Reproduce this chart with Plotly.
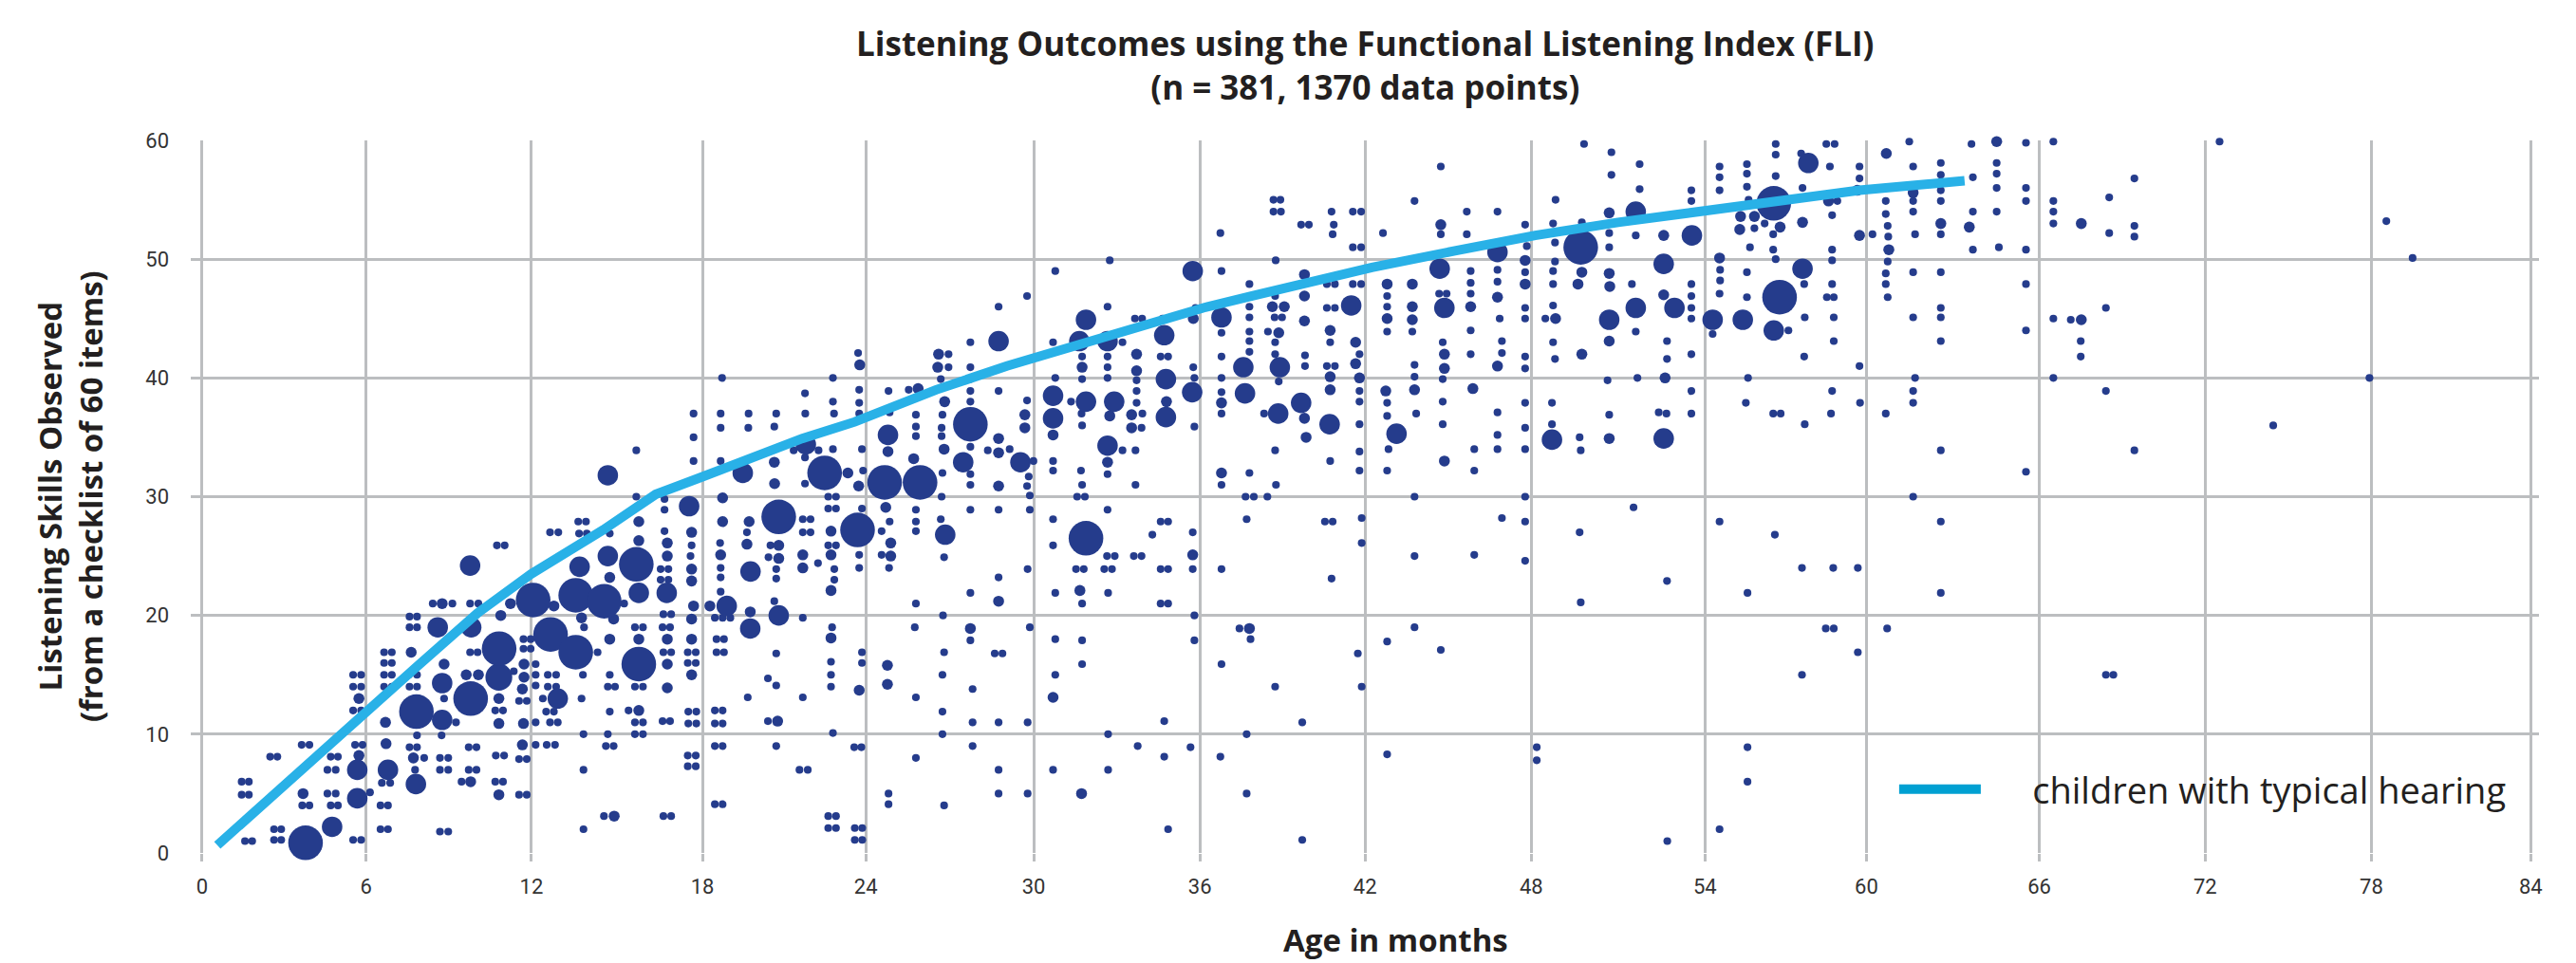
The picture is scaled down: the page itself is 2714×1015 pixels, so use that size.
"""Listening Outcomes (FLI): bubble scatter with the typical hearing reference curve."""
import plotly.graph_objects as go

_DOT = "#253c8c"
_CURVE = "#29b1e7"
_KEY = "#00a0d2"
_GRID = "#bcbec0"
_TEXT = "#231f20"
_HEAD_FONT = "Open Sans"

# reference curve (age in months, skills observed)
curve_age = [0.55, 3.65, 5.93, 7.77, 9.96, 11.53, 11.9, 14.5, 16.4, 18.0, 19.4, 21.7, 23.6, 26.54, 29.1,
             31.5, 36.2, 37.97, 41.3, 42.3, 45.3, 48.2, 51.2, 54.5, 56.98, 59.93, 63.73]
curve_score = [0.65, 7.2, 11.9, 15.7, 20.2, 22.9, 23.5, 27.2, 30.2, 31.6, 32.9, 34.9, 36.3, 39.0, 41.0,
               42.7, 45.9, 46.9, 48.8, 49.3, 50.7, 52.0, 53.1, 54.1, 54.9, 55.8, 56.6]

# tick positions as drawn in the original, labels are the nominal months
x_tick_pos = [0, 5.93, 11.91, 18.09, 24.0, 30.07, 36.08, 42.05, 48.06, 54.34, 60.18, 66.43, 72.43, 78.44, 84.2]
x_tick_text = ["0", "6", "12", "18", "24", "30", "36", "42", "48", "54", "60", "66", "72", "78", "84"]
y_ticks = [0, 10, 20, 30, 40, 50, 60]

# children per bubble -> (age, score) points
one_under_12 = [
    (1.43, 6), (1.69, 6), (1.43, 4.9), (1.69, 4.9), (1.55, 1), (1.81, 1), (2.46, 8.1), (2.72, 8.1), (2.6, 2), (2.86, 2),
    (2.6, 1.1), (2.86, 1.1), (3.6, 9.1), (3.88, 9.1), (3.62, 4), (3.88, 4), (4.65, 8.1), (4.91, 8.1), (4.53, 7), (4.83, 7),
    (4.53, 5), (4.83, 5), (4.65, 4), (4.91, 4), (5.46, 1.1), (5.75, 1.1), (5.53, 9.1), (5.8, 9.1), (5.46, 15), (5.75, 15),
    (5.46, 14), (5.75, 14), (5.46, 12), (5.75, 12), (6.07, 5.1), (6.5, 5.9), (6.8, 5.9), (6.45, 4), (6.72, 4), (6.45, 2),
    (6.72, 2), (6.58, 16.9), (6.86, 16.9), (6.58, 16), (6.86, 16), (6.58, 15), (6.86, 15), (6.58, 14), (6.86, 14),
    (7.5, 19.9), (7.77, 19.9), (7.5, 19), (7.77, 19), (7.47, 15), (7.77, 15), (7.5, 14), (7.77, 14), (7.77, 9.9),
    (7.5, 8.9), (7.77, 8.9), (8.03, 8), (7.7, 7), (8.34, 21), (9.05, 21), (8.75, 13), (9.18, 11), (8.66, 9.9), (8.6, 8),
    (8.9, 8), (8.6, 7), (8.9, 7), (8.6, 1.8), (8.9, 1.8), (9.69, 21), (9.99, 21), (9.69, 16.9), (9.96, 16.9), (9.64, 8.9),
    (9.92, 8.9), (9.64, 7), (9.92, 7), (9.38, 6), (10.66, 25.9), (10.94, 25.9), (11.27, 15.3), (10.6, 12), (10.88, 12),
    (10.62, 8.2), (10.92, 8.2), (10.6, 6), (10.88, 6), (11.62, 18), (11.88, 18), (11.62, 17.2), (11.88, 17.2),
    (11.46, 12.8), (11.74, 12.8), (11.46, 7.9), (11.74, 7.9), (11.46, 4.9), (11.74, 4.9),
]
one_12_to_24 = [
    (12.06, 15.9), (12.06, 15), (12.06, 14.1), (12.06, 11), (12.06, 9.1), (12.58, 27), (12.88, 27), (12.5, 15), (12.8, 15),
    (12.5, 14), (12.8, 14), (12.32, 13), (12.44, 11.9), (12.72, 11.9), (12.58, 11), (12.86, 11), (12.46, 9.1), (12.76, 9.1),
    (13.6, 27.9), (13.88, 27.9), (13.63, 26.9), (13.91, 26.9), (13.81, 19), (13.77, 15), (13.72, 13), (13.79, 10), (13.79, 7),
    (13.79, 2), (14.3, 16.9), (14.74, 26.9), (14.74, 15), (14.67, 14), (14.93, 14), (14.74, 11.9), (14.67, 10), (14.6, 9),
    (14.88, 9), (14.53, 3.1), (15.26, 21), (15.7, 33.9), (15.7, 30), (15.65, 19), (15.94, 19), (15.65, 14), (15.94, 14),
    (15.42, 12), (15.65, 11), (15.94, 11), (15.65, 10), (15.94, 10), (16.72, 29.8), (16.72, 28.9), (16.72, 27.1),
    (16.58, 23.9), (16.86, 23.9), (16.58, 23), (16.86, 23), (16.68, 20.1), (16.96, 20.1), (16.65, 19), (16.92, 19),
    (16.68, 16.9), (16.96, 16.9), (16.65, 11.1), (16.92, 11.1), (16.68, 3.1), (16.96, 3.1), (17.77, 37), (17.77, 35),
    (17.77, 33), (17.7, 25.9), (17.66, 25), (17.56, 16.9), (17.85, 16.9), (17.56, 16), (17.85, 16), (17.58, 11.9),
    (17.87, 11.9), (17.58, 10.9), (17.87, 10.9), (17.56, 8.2), (17.85, 8.2), (17.56, 7.3), (17.85, 7.3), (18.8, 40),
    (18.75, 37), (18.75, 35.8), (18.75, 33), (18.73, 26.1), (18.75, 24), (18.75, 23.2), (18.75, 22), (18.54, 19.8),
    (18.82, 19.8), (19.1, 19.8), (18.6, 18), (18.87, 18), (18.6, 16.9), (18.87, 16.9), (18.54, 12), (18.82, 12),
    (18.54, 10.9), (18.82, 10.9), (18.54, 9), (18.82, 9), (18.54, 4.1), (18.82, 4.1), (19.76, 37), (19.75, 35.8),
    (19.7, 27), (19.73, 13.1), (20.69, 35.9), (20.76, 37), (20.55, 25.9), (20.48, 24.9), (20.76, 23.9), (20.76, 23.1),
    (20.69, 21.2), (20.76, 16.8), (20.46, 14.7), (20.76, 14.1), (20.46, 11.1), (20.76, 9), (21.81, 37), (21.8, 38.7),
    (21.39, 33.9), (22.29, 33.9), (21.8, 33.3), (21.8, 31.1), (21.72, 28.1), (22, 28.1), (21.72, 27), (22, 27), (22.27, 24.4),
    (21.72, 19.8), (21.72, 13.1), (21.6, 7), (21.9, 7), (22.81, 40), (22.81, 38), (22.85, 37), (22.81, 34), (22.64, 30),
    (22.92, 30), (22.64, 29), (22.92, 29), (22.64, 25.9), (22.92, 25.9), (22.86, 23.9), (22.86, 23), (22.78, 19),
    (22.74, 16.1), (22.74, 15), (22.74, 14), (22.81, 10.1), (22.64, 3.1), (22.92, 3.1), (22.64, 2.1), (22.92, 2.1),
]
one_24_to_36 = [
    (23.72, 42.1), (23.76, 39), (23.76, 37.9), (23.76, 37), (23.86, 34), (23.9, 32.2), (23.86, 29), (23.76, 25.1), (23.76, 24),
    (23.86, 16.9), (23.86, 16), (23.58, 8.9), (23.84, 8.9), (23.6, 2.1), (23.87, 2.1), (23.6, 1.1), (23.87, 1.1), (24.82, 38.9),
    (24.86, 37.1), (24.86, 27.9), (24.57, 27.1), (24.57, 25.1), (24.84, 24), (24.82, 5), (24.82, 4.1), (25.55, 39), (25.81, 36.9),
    (25.81, 35.9), (25.81, 35.1), (25.81, 28.9), (25.81, 27.9), (25.81, 27.1), (25.81, 21), (25.77, 19), (25.81, 13.1),
    (25.81, 8), (26.99, 42), (26.99, 40.9), (26.71, 39.9), (26.77, 36.9), (26.74, 35.8), (26.74, 35.1), (26.77, 32), (26.74, 30),
    (26.71, 28.1), (26.83, 24.9), (26.79, 20), (26.83, 16.9), (26.77, 15), (26.77, 11.9), (26.77, 10), (26.83, 4), (27.78, 43),
    (27.78, 40.9), (27.78, 39.9), (27.78, 38.9), (27.78, 38), (27.78, 34.2), (28.41, 33.9), (27.78, 31.9), (27.78, 31),
    (27.78, 28.9), (27.78, 21.9), (27.78, 17.9), (27.86, 13.8), (27.86, 11), (27.86, 9), (28.8, 46), (28.8, 38.9), (29.2, 34),
    (28.8, 28.9), (28.8, 23.2), (28.66, 16.8), (28.94, 16.8), (28.8, 11), (28.8, 7), (28.8, 5), (29.83, 46.9), (29.83, 38.1),
    (30.06, 33), (29.89, 31.7), (29.83, 30.9), (29.93, 30.1), (29.93, 28.9), (29.85, 23.9), (29.93, 19), (29.85, 11), (29.85, 5),
    (30.85, 49), (30.77, 43), (30.85, 40), (30.77, 33), (30.77, 32.2), (30.77, 28.1), (30.77, 25.9), (30.85, 21.9), (30.85, 18),
    (30.85, 15), (30.77, 7), (31.42, 38), (31.82, 41.8), (31.82, 39.9), (31.8, 37), (31.82, 36), (31.78, 32.2), (31.82, 31),
    (31.64, 30), (31.92, 30), (31.6, 23.9), (31.88, 23.9), (31.82, 21), (31.82, 17.9), (31.82, 15.9), (32.74, 46), (32.82, 49.9),
    (32.74, 41.8), (32.74, 40.9), (32.74, 40), (33.28, 43), (33.28, 33.9), (32.74, 31.9), (32.74, 28.9), (32.62, 23.9),
    (32.9, 23.9), (32.72, 25), (33, 25), (32.76, 21.9), (32.76, 10), (32.76, 7), (33.73, 45), (33.99, 45), (33.79, 39.8),
    (33.79, 38.9), (33.79, 37.9), (34, 37), (33.97, 35.8), (33.75, 33.9), (33.75, 31), (33.69, 25), (33.97, 25), (33.83, 9),
    (34.73, 45), (34.66, 41.8), (34.93, 41.8), (34.66, 27.9), (34.93, 27.9), (34.36, 26.8), (34.66, 23.9), (34.93, 23.9),
    (34.66, 21), (34.93, 21), (34.79, 11.1), (34.79, 8.1), (34.93, 2), (35.92, 45.9), (35.84, 40.9), (35.88, 40), (35.88, 35.9),
    (35.82, 27), (35.82, 23.9), (35.88, 20), (35.88, 17.9), (35.74, 8.9),
]
one_36_to_48 = [
    (36.82, 52.2), (36.86, 49), (36.86, 43.8), (36.86, 41.8), (36.86, 40), (36.86, 38.8), (36.86, 37), (36.86, 31), (36.86, 23.9),
    (36.86, 15.9), (36.82, 8.1), (37.87, 47.9), (37.87, 46), (37.87, 45.1), (37.87, 43.9), (37.87, 43.1), (37.87, 42.2),
    (37.87, 32), (37.73, 30), (38.03, 30), (37.77, 28.1), (38.4, 37), (37.51, 18.9), (37.91, 18), (37.77, 10), (37.77, 5),
    (38.74, 55), (38.99, 55), (38.74, 54), (39.01, 54), (38.82, 49.9), (38.8, 46.9), (38.78, 45.1), (39.05, 45.1), (38.54, 43.9),
    (38.8, 43), (38.8, 42), (38.93, 39.7), (38.8, 33.9), (38.83, 31), (38.52, 30), (38.8, 14), (39.74, 52.9), (40.02, 52.9),
    (39.88, 41.9), (39.88, 41), (39.78, 11), (39.78, 1.1), (40.84, 54), (40.92, 52.9), (40.88, 52.1), (40.67, 47.9), (40.96, 47.9),
    (40.67, 45.9), (40.96, 45.9), (40.79, 43), (40.67, 41), (40.96, 41), (40.79, 33), (40.6, 27.9), (40.88, 27.9), (40.84, 23.1),
    (41.61, 54), (41.91, 54), (41.61, 51), (41.91, 51), (41.61, 47.9), (41.91, 47.9), (41.85, 42), (41.85, 38.9), (41.85, 38),
    (41.85, 36.1), (41.85, 33.8), (41.85, 32.2), (41.93, 28.2), (41.93, 26.1), (41.79, 16.8), (41.93, 14), (42.7, 52.2),
    (42.85, 46.9), (42.85, 46), (42.85, 43.9), (42.85, 37.9), (42.85, 36.8), (42.9, 34), (42.85, 32.2), (42.85, 17.8), (42.85, 8.3),
    (43.84, 54.9), (43.76, 43.9), (43.84, 41.1), (43.84, 40.1), (43.9, 37), (43.84, 30), (43.84, 25), (43.84, 19), (44.79, 57.8),
    (44.79, 52.1), (44.73, 47.1), (45, 47.1), (44.86, 43), (44.86, 39.9), (44.86, 38), (44.86, 36.1), (44.79, 17.1), (45.73, 54),
    (45.73, 52.1), (45.87, 49), (45.87, 48), (45.87, 47.1), (45.87, 44), (45.87, 42), (46, 34), (46, 32.2), (46, 25.1), (46.84, 54),
    (46.84, 49.1), (46.84, 48.1), (46.92, 45), (47, 43.1), (47, 42.1), (46.84, 37.1), (46.84, 35.2), (46.84, 34), (47, 28.2),
    (47.84, 52.9), (47.9, 51.1), (47.84, 48.9), (47.84, 45.9), (47.84, 45), (47.84, 41.8), (47.84, 40.8), (47.84, 37.9),
    (47.84, 35.8), (47.84, 34), (47.84, 30), (47.84, 27.9), (47.84, 24.6),
]
one_over_48 = [
    (48.26, 8.9), (48.26, 7.8), (48.94, 55), (48.85, 53), (48.92, 51.4), (48.92, 49.8), (48.85, 49), (48.85, 47.9), (48.85, 46.1),
    (48.57, 45), (48.85, 43), (48.92, 41.6), (48.81, 37.9), (48.81, 36.1), (49.89, 53.1), (49.81, 35), (49.85, 33.9), (49.81, 27),
    (49.85, 21.1), (49.97, 59.7), (50.96, 59), (50.96, 57.1), (50.88, 52.2), (50.88, 51), (50.82, 39.8), (50.88, 36.9), (51.76, 29.1),
    (51.98, 58), (51.98, 55.9), (51.84, 52), (51.7, 47.9), (51.84, 43.9), (51.9, 40), (52.67, 37.1), (52.95, 37), (52.97, 43.1),
    (52.97, 41.6), (52.97, 22.9), (52.98, 1), (53.85, 55.8), (53.85, 54.9), (53.85, 47.9), (53.85, 46.9), (53.85, 45.9), (53.85, 45),
    (53.85, 42), (53.85, 38.9), (53.85, 37), (54.87, 57.8), (54.87, 56.9), (54.87, 55.8), (54.89, 49.1), (54.89, 48.2), (54.87, 47.1),
    (54.62, 43.7), (54.87, 27.9), (54.87, 2), (55.86, 58), (55.86, 57.2), (55.86, 56.1), (55.92, 55), (56.13, 52.6), (56.5, 53),
    (55.97, 51), (55.86, 48.9), (55.86, 46.8), (55.9, 40), (55.82, 37.9), (55.88, 21.9), (55.88, 8.9), (55.88, 6), (56.9, 59.7),
    (56.9, 58.8), (56.9, 57), (56.81, 52.1), (56.81, 50.8), (56.9, 50), (57.36, 44), (56.87, 26.8), (56.81, 37), (57.08, 37),
    (57.82, 58.9), (57.87, 56), (57.93, 47.9), (57.95, 45.1), (57.93, 41.8), (57.95, 36.1), (57.85, 24), (57.85, 15), (58.73, 59.7),
    (59.03, 59.7), (58.86, 57.8), (59.13, 54.9), (58.94, 53.7), (58.94, 50.8), (58.94, 49.9), (58.94, 47.9), (58.75, 46.8),
    (59, 46.8), (59, 45.1), (59, 43.1), (58.94, 38.9), (58.9, 37), (58.98, 24), (58.71, 18.9), (59, 18.9), (59.93, 57.8),
    (59.93, 56.8), (60.4, 52.1), (59.93, 41), (59.95, 37.9), (59.87, 24), (59.87, 16.9), (60.88, 54.9), (60.88, 53.8), (60.95, 52.8),
    (60.97, 51.9), (60.95, 49.8), (60.88, 48.8), (60.88, 47.9), (60.95, 46.8), (60.88, 37), (60.93, 18.9), (61.73, 59.9),
    (61.87, 57.8), (61.87, 54.9), (61.87, 54), (61.94, 52.1), (61.87, 48.9), (61.87, 45.1), (61.94, 40), (61.87, 38.9), (61.87, 37.9),
    (61.87, 30), (62.87, 58.1), (62.87, 57.1), (62.87, 55.8), (62.87, 54.9), (62.87, 52.1), (62.87, 48.9), (62.87, 45.9), (62.87, 45.1),
    (62.87, 43.1), (62.87, 33.9), (62.87, 27.9), (62.87, 21.9), (63.98, 59.7), (64.03, 56.9), (64.03, 54), (64.03, 50.8), (64.89, 58.1),
    (64.89, 57.2), (64.89, 56), (64.89, 54), (64.97, 51), (65.95, 59.8), (65.95, 56), (65.95, 54.9), (65.95, 50.8), (65.95, 47.9),
    (65.95, 44), (65.95, 32.1), (66.94, 59.9), (66.94, 54.9), (66.94, 54), (66.94, 53), (66.94, 45), (66.94, 40), (67.57, 44.9),
    (67.93, 43.1), (67.93, 41.8), (68.84, 45.9), (68.96, 55.2), (68.96, 52.2), (68.84, 38.9), (68.84, 15), (69.11, 15), (69.87, 56.8),
    (69.87, 52.8), (69.87, 51.9), (69.87, 33.9), (72.95, 59.9), (74.89, 36), (78.37, 40), (78.98, 53.2), (79.93, 50.1),
]
two_children = [
    (3.65, 5), (5.67, 8.2), (5.67, 13), (6.63, 11), (6.65, 9.2), (7.56, 16.9), (7.64, 8), (8.68, 21), (8.75, 15.9), (9.55, 15),
    (9.99, 15), (9.71, 6), (10.8, 20), (11.15, 21), (10.73, 13), (10.73, 10.9), (10.73, 4.9), (11.64, 15.9), (11.64, 14.8),
    (11.58, 13.8), (11.62, 10.9), (11.58, 9.1), (12.72, 20.8), (13.72, 19.8), (14.74, 23.2), (14.88, 19.7), (14.74, 18), (14.9, 3.1),
    (15.79, 27.9), (15.79, 26.3), (15.79, 18), (15.79, 12), (16.82, 26.1), (16.82, 25), (16.82, 18), (16.82, 15.9), (16.82, 13.9),
    (17.7, 27), (17.7, 23.9), (17.7, 22.9), (17.77, 20.8), (17.7, 19.7), (17.7, 18), (17.7, 15), (18.36, 20.8), (18.82, 29.9),
    (18.82, 27.9), (18.75, 25.1), (19.78, 27.9), (19.7, 26), (19.82, 20.3), (20.69, 32.9), (20.7, 31.1), (20.85, 25.9), (20.85, 24.8),
    (20.81, 11.1), (21.72, 25.1), (21.72, 24), (22.74, 27.1), (22.74, 25.1), (22.74, 22.1), (22.74, 18.1), (23.35, 32), (23.78, 41.1),
    (23.74, 30.9), (23.76, 13.7), (24.8, 33.8), (24.72, 29.1), (24.9, 26.1), (24.9, 25), (24.78, 15.8), (24.78, 14.2), (25.89, 39.1),
    (25.73, 33.2), (26.63, 42), (26.6, 40.9), (26.85, 38), (26.83, 34), (27.78, 18.9), (28.8, 34.9), (28.8, 33.7), (28.8, 30.9),
    (28.8, 21.2), (29.75, 36.9), (29.75, 35.8), (30.77, 35.2), (30.77, 13.1), (31.82, 40.9), (31.74, 22.1), (31.8, 5), (32.82, 36.8),
    (32.74, 32.9), (33.79, 42), (33.79, 40.6), (33.61, 36.9), (33.61, 35.8), (34.87, 38), (35.84, 45), (35.82, 25.1), (36.86, 37.9),
    (36.86, 32), (37.87, 18.9), (38.7, 46), (39.13, 46), (38.93, 43.8), (39.86, 48.7), (39.86, 46.9), (39.86, 44.8), (39.86, 36.6),
    (39.92, 35), (40.79, 44), (40.79, 40.1), (40.79, 39), (41.71, 43), (41.71, 41.2), (41.85, 40), (42.85, 47.9), (42.85, 45),
    (42.8, 38.9), (43.76, 47.9), (43.76, 46), (43.76, 44.9), (43.84, 39), (44.79, 52.9), (44.92, 42), (44.92, 40.8), (44.92, 33),
    (45.87, 46), (45.95, 39.1), (46.84, 46.8), (46.84, 41), (47.84, 49.9), (47.84, 47.9), (48.94, 45), (49.89, 48.9), (49.75, 47.9),
    (49.89, 42), (50.88, 53.9), (50.88, 48.8), (50.9, 47.7), (50.88, 43.1), (50.88, 34.9), (52.85, 52), (52.85, 47), (52.9, 40),
    (54.87, 50.1), (55.63, 53.6), (55.6, 52.5), (56.13, 53.6), (57.06, 52.7), (57.87, 53.1), (58.81, 54.9), (59.85, 55.8), (59.93, 52),
    (60.9, 58.9), (60.99, 50.8), (61.87, 55.6), (62.87, 53), (63.9, 52.7), (64.89, 59.9), (67.95, 44.9), (67.95, 53),
]
seven_children = [
    (4.7, 2.2), (5.61, 7), (5.61, 4.6), (6.72, 7), (7.73, 5.8), (8.52, 19), (8.68, 14.3), (8.68, 11.2), (9.73, 19), (9.69, 24.2),
    (12.86, 13), (13.65, 24.1), (14.67, 25), (14.67, 31.8), (15.79, 21.9), (16.8, 21.9), (17.61, 29.2), (18.97, 20.8), (19.55, 32),
    (19.83, 23.7), (19.82, 18.9), (20.85, 20), (21.83, 34.4), (24.8, 35.2), (26.87, 26.8), (27.52, 32.9), (28.8, 43.1), (29.59, 32.9),
    (30.77, 38.5), (30.77, 36.6), (31.72, 43.1), (31.96, 44.9), (31.96, 38), (32.74, 43.1), (32.98, 38), (32.74, 34.3), (34.79, 43.6),
    (34.85, 39.9), (34.85, 36.7), (35.8, 38.8), (35.82, 49), (36.86, 45.1), (37.65, 40.9), (37.71, 38.7), (38.97, 40.9), (38.91, 37),
    (39.74, 37.9), (40.77, 36.1), (41.55, 46.1), (43.19, 35.3), (44.75, 49.2), (44.92, 45.9), (46.84, 50.6), (48.81, 34.8), (50.88, 44.9),
    (51.84, 54), (51.84, 45.9), (52.85, 49.6), (52.85, 34.9), (53.87, 52), (53.24, 45.9), (54.62, 44.9), (55.71, 44.9), (56.83, 44),
    (58.08, 58.1), (57.87, 49.2),
]
twelve_children = [(10.73, 14.8)]
twenty_children = [
    (3.74, 0.85), (7.75, 11.9), (9.71, 13), (10.74, 17.2), (11.97, 21.3), (12.6, 18.4), (13.51, 21.7), (13.51, 16.9), (14.54, 21.2),
    (15.7, 24.3), (15.79, 15.9), (20.85, 28.3), (22.51, 32), (23.7, 27.2), (24.68, 31.2), (25.96, 31.2), (27.78, 36.1), (31.96, 26.5),
    (49.85, 51), (56.83, 54.7), (57.04, 46.8),
]

ones = one_under_12 + one_12_to_24 + one_24_to_36 + one_36_to_48 + one_over_48
groups = [(1, ones), (2, two_children), (7, seven_children), (12, twelve_children), (20, twenty_children)]

fig = go.Figure()

for count, points in groups:
    fig.add_trace(
        go.Scatter(
            x=[p[0] for p in points], y=[p[1] for p in points], mode="markers", showlegend=False,
            marker=dict(color=_DOT, opacity=1, size=[count] * len(points), sizemode="area", sizeref=0.03, line=dict(width=0)),
            cliponaxis=False,
        )
    )

fig.add_trace(
    go.Scatter(x=curve_age, y=curve_score, mode="lines", showlegend=False,
               line=dict(color=_CURVE, width=10), cliponaxis=False)
)
# legend key is darker than the curve itself
fig.add_trace(
    go.Scatter(x=[None], y=[None], mode="lines", line=dict(color=_KEY, width=14),
               name="\u00a0\u00a0\u00a0\u00a0\u00a0children with typical hearing")
)

fig.update_layout(
    width=2714,
    height=1015,
    paper_bgcolor="white",
    plot_bgcolor="white",
    margin=dict(l=193, r=47, t=140, b=124, autoexpand=False),
    title=dict(
        text="<b>Listening Outcomes using the Functional Listening Index (FLI)<br>(n = 381, 1370 data points)</b>",
        x=0.527, xanchor="center", y=0.9496, yanchor="middle",
        font=dict(family=_HEAD_FONT, size=35, color=_TEXT),
    ),
    legend=dict(x=0.7255, y=0.089, xanchor="left", yanchor="middle", itemwidth=86, bgcolor="rgba(0,0,0,0)",
                font=dict(family=_HEAD_FONT, size=38, color=_TEXT)),
    annotations=[
        dict(text="<b>Age in months</b>", xref="paper", yref="paper", x=0.513, y=-0.122, yanchor="middle", showarrow=False,
             font=dict(family=_HEAD_FONT, size=33, color=_TEXT)),
        dict(text="<b>Listening Skills Observed<br>(from a checklist of 60 items)</b>",
             xref="paper", yref="paper", x=-0.0515, y=0.5, xanchor="center", yanchor="middle", textangle=-90, showarrow=False,
             font=dict(family=_HEAD_FONT, size=33, color=_TEXT)),
    ],
)
fig.update_xaxes(
    range=[-0.41, 84.5], tickvals=x_tick_pos, ticktext=x_tick_text, showgrid=True, gridcolor=_GRID, gridwidth=3,
    zeroline=False, showline=False, ticks="outside", ticklen=8, tickwidth=3, tickcolor=_GRID, ticklabelstandoff=8,
    tickfont=dict(family="Roboto", size=22, color="#333333"),
)
fig.update_yaxes(
    range=[0, 60], tickvals=y_ticks, showgrid=True, gridcolor=_GRID, gridwidth=3, zeroline=False, showline=False,
    ticks="", ticklabelstandoff=22, tickfont=dict(family="Roboto", size=22, color="#333333"),
)

fig.write_html("out.html")
